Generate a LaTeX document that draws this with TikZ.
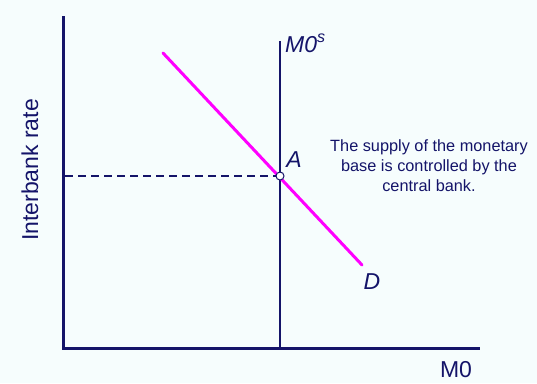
\documentclass[tikz,border=0pt]{standalone}
\usepackage{fontspec}
\setmainfont{Liberation Sans}
\usetikzlibrary{positioning}
\definecolor{mnavy}{RGB}{20,20,105}
\definecolor{mpink}{RGB}{255,0,255}
\definecolor{mback}{RGB}{246,253,253}

\begin{document}
\begin{tikzpicture}[x=1pt,y=-1pt,
    axis/.style={draw=mnavy, line width=3pt},
    supply/.style={draw=mnavy, line width=2pt},
    demand/.style={draw=mpink, line width=3pt},
    guide/.style={draw=mnavy, dashed, dash pattern=on 8pt off 5pt, line width=2pt},
    lbl/.style={font=\fontsize{23}{26}\selectfont, text=mnavy, inner sep=0pt},
    ilbl/.style={lbl, font=\fontsize{23}{26}\selectfont\itshape},
    note/.style={font=\fontsize{16.3}{20}\selectfont, text=mnavy, align=center, inner sep=0pt}
]
\fill[mback] (0,0) rectangle (537,383);
\useasboundingbox (0,0) rectangle (537,383);

% axes
\coordinate (O) at (63,348);
\coordinate (ytop) at (63,16);
\coordinate (xend) at (480,348);
\draw[axis] (ytop) -- (O) -- (xend);

% supply and demand
\coordinate (stop) at (280,41);
\coordinate (sbot) at (280,348);
\draw[supply] (stop) -- (sbot);
\coordinate (dtop) at (163,53);
\coordinate (dbot) at (362,265);
\draw[demand, line cap=round] (dtop) -- (dbot);

% equilibrium
\coordinate (ystar) at (65,176);
\node[circle, draw=mnavy, fill=white, line width=1pt, inner sep=0pt,
      minimum size=8pt] (A) at (280,176) {};
\draw[guide] (ystar) -- (A.west);

% labels
\node[ilbl, anchor=base west] (Mlab) at (285,52) {M0\textsuperscript{s}};
\node[ilbl] (Alab) at (294,160) {A};
\node[ilbl] (Dlab) at (372,282) {D};
\node[lbl] (xlab) at (456,370) {M0};
\node[lbl, rotate=90] (ylab) at (30,170) {Interbank rate};
\node[note] (txt) at (429,166) {The supply of the monetary\\base is controlled by the\\central bank.};
\end{tikzpicture}
\end{document}
